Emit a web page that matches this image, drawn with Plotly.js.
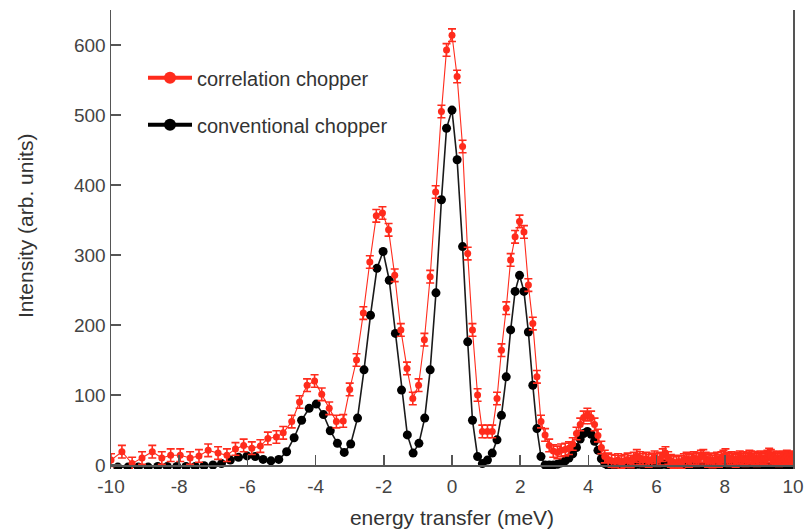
<!DOCTYPE html>
<html><head><meta charset="utf-8">
<script src="https://cdn.plot.ly/plotly-3.0.1.min.js"></script>
<style>html,body{margin:0;padding:0;background:#fff}#chart{width:806px;height:531px}</style>
</head><body><div id="chart"></div>
<script>
// conventional chopper (black)
const xConv = [-9.80,-9.50,-9.20,-8.91,-8.63,-8.35,-8.07,-7.80,-7.53,-7.27,-7.01,-6.76,-6.50,-6.26,-6.01,-5.77,-5.54,-5.31,-5.08,-4.85,-4.63,-4.41,-4.19,-3.98,-3.77,-3.57,-3.36,-3.16,-2.97,-2.77,-2.58,-2.39,-2.20,-2.02,-1.84,-1.66,-1.48,-1.31,-1.14,-0.97,-0.80,-0.64,-0.47,-0.31,-0.16,0.00,
0.15,0.31,0.46,0.60,0.75,0.89,1.04,1.18,1.32,1.45,
1.59,1.72,1.85,1.98,2.11,2.24,2.37,2.49,2.61,2.73,
2.85,2.97,3.09,3.20,3.32,3.43,3.54,3.65,3.76,3.86,
3.97,4.08,4.18,4.28,4.38,4.48,4.58,4.68,4.78,4.87,
4.97,5.06,5.15,5.24,5.33,5.42,5.51,5.60,5.69,5.77,
5.86,5.94,6.02,6.10,6.18,6.26,6.34,6.42,6.50,6.58,
6.65,6.73,6.80,6.88,6.95,7.02,7.09,7.16,7.23,7.30,
7.37,7.44,7.51,7.57,7.64,7.70,7.77,7.83,7.90,7.96,
8.02,8.08,8.14,8.20,8.26,8.32,8.38,8.44,8.50,8.55,
8.61,8.67,8.72,8.78,8.83,8.88,8.94,8.99,9.04,9.09,
9.15,9.20,9.25,9.30,9.35,9.40,9.44,9.49,9.54,9.59,
9.64,9.68,9.73,9.77,9.82,9.86,9.91,9.95,9.99];
const yConv = [-3,-3,-3,-3,-2,-2,-2,-2,-2,-1,0,2,7,11,13,12,8,6,8,19,39,64,81,87,72,49,31,18,30,67,136,214,281,305,264,188,107,43,17,31,67,136,246,379,481,507,
436,312,176,64,12,2,7,17,36,71,
126,193,248,271,248,190,114,52,12,0,
0,0,1,3,6,10,16,25,37,45,
48,44,34,21,9,2,-1,-2,-2,-2,
-3,-2,-2,-1,0,1,1,0,-1,-2,
-2,-2,-1,0,1,1,0,-1,-2,-2,
-2,-3,-2,-2,-3,-2,-2,-2,-3,-2,
-2,-3,-2,-2,-2,-3,-2,-2,-3,-2,
-2,-2,-3,-2,-2,-3,-2,-2,-2,-3,
-2,-2,-3,-2,-2,-2,-3,-2,-2,-3,
-2,-2,-2,-3,-2,-2,-3,-2,-2,-2,
-3,-2,-2,-3,-2,-2,-2,-3,-2];
// correlation chopper (red)
const xCorr = [-10.00,-9.68,-9.38,-9.09,-8.79,-8.51,-8.25,-7.97,-7.68,-7.42,-7.15,-6.86,-6.60,-6.35,-6.11,-5.87,-5.62,-5.40,-5.15,-4.95,-4.70,-4.47,-4.25,-4.03,-3.82,-3.60,-3.39,-3.19,-3.00,-2.80,-2.60,-2.41,-2.22,-2.04,-1.86,-1.68,-1.50,-1.32,-1.15,-0.98,-0.81,-0.64,-0.48,-0.31,-0.16,0.00,
0.15,0.31,0.46,0.60,0.75,0.89,1.04,1.18,1.32,1.45,
1.59,1.72,1.85,1.98,2.11,2.24,2.37,2.49,2.61,2.73,
2.85,2.97,3.09,3.20,3.32,3.43,3.54,3.65,3.76,3.86,
3.97,4.08,4.18,4.28,4.38,4.48,4.58,4.68,4.78,4.87,
4.97,5.06,5.15,5.24,5.33,5.42,5.51,5.60,5.69,5.77,
5.86,5.94,6.02,6.10,6.18,6.26,6.34,6.42,6.50,6.58,
6.65,6.73,6.80,6.88,6.95,7.02,7.09,7.16,7.23,7.30,
7.37,7.44,7.51,7.57,7.64,7.70,7.77,7.83,7.90,7.96,
8.02,8.08,8.14,8.20,8.26,8.32,8.38,8.44,8.50,8.55,
8.61,8.67,8.72,8.78,8.83,8.88,8.94,8.99,9.04,9.09,
9.15,9.20,9.25,9.30,9.35,9.40,9.44,9.49,9.54,9.59,
9.64,9.68,9.73,9.77,9.82,9.86,9.91,9.95,9.99];
const yCorr = [7,19,2,10,19,10,14,14,10,13,21,17,14,23,28,24,27,38,40,46,62,90,114,120,101,81,62,63,108,150,217,290,356,360,336,271,193,138,95,114,179,269,390,505,593,614,
555,455,302,193,100,48,48,48,95,164,
224,293,326,348,333,257,202,126,62,43,
28,20,18,21,22,24,30,45,58,68,
72,68,58,42,25,12,8,6,5,7,
4,6,8,5,9,13,10,7,9,6,
8,11,7,9,14,17,10,6,4,3,
5,4,7,9,6,8,10,7,9,12,
13,9,6,8,5,7,9,6,10,12,
14,9,7,10,8,6,9,11,8,10,
7,9,12,11,8,10,7,9,11,8,
10,9,12,15,13,9,11,8,10,7,
9,11,8,10,12,9,11,8,10];
const corrErr = 9;
const seriesNames = ['correlation chopper', 'conventional chopper'];
const xTitle = 'energy transfer (meV)';
const yTitle = 'Intensity (arb. units)';
const xTicks = [-10, -8, -6, -4, -2, 0, 2, 4, 6, 8, 10];
const yTicks = [0, 100, 200, 300, 400, 500, 600];

const RED = '#ff2b1c';
const BLACK = '#000000';
const AX = '#555555';
const Y0 = -5.7, Y1 = 650;

const traces = [
  {x: xConv, y: yConv, type: 'scatter', mode: 'lines+markers',
   line: {color: '#1a1a1a', width: 1.6}, marker: {color: BLACK, size: 9},
   showlegend: false, hoverinfo: 'skip'},
  {x: xCorr, y: yCorr, type: 'scatter', mode: 'lines+markers',
   line: {color: RED, width: 1.1}, marker: {color: RED, size: 7},
   error_y: {type: 'constant', value: corrErr, color: RED, thickness: 1.6, width: 4},
   showlegend: false, hoverinfo: 'skip'},
  {x: [null], y: [null], type: 'scatter', mode: 'lines+markers', name: seriesNames[0],
   line: {color: RED, width: 4}, marker: {color: RED, size: 12}, legendgroup: 'a'},
  {x: [null], y: [null], type: 'scatter', mode: 'lines+markers', name: seriesNames[1],
   line: {color: BLACK, width: 4}, marker: {color: BLACK, size: 12}, legendgroup: 'b'}
];

const axCommon = {
  range: [-10, 10], tickvals: xTicks, ticktext: xTicks.map(String),
  ticks: 'inside', ticklen: 10, tickwidth: 1.5, tickcolor: AX,
  showline: true, linecolor: AX, linewidth: 1.5,
  showgrid: false, zeroline: false, fixedrange: true
};

const layout = {
  width: 806, height: 531,
  margin: {l: 111, r: 13, t: 10, b: 62},
  paper_bgcolor: '#ffffff', plot_bgcolor: '#ffffff',
  font: {family: 'Liberation Sans, Arial, sans-serif', size: 19, color: '#444444'},
  showlegend: true,
  xaxis: Object.assign({}, axCommon, {
    anchor: 'free', position: (0 - Y0) / (Y1 - Y0),
    tickfont: {size: 19, color: '#444'}, ticklabelstandoff: 4,
    title: {text: xTitle, font: {size: 21, color: '#333'}, standoff: 14}
  }),
  xaxis2: Object.assign({}, axCommon, {
    overlaying: 'x', side: 'top', anchor: 'y', showticklabels: false
  }),
  yaxis: {
    range: [Y0, Y1], tickvals: yTicks, ticktext: yTicks.map(String),
    ticks: 'inside', ticklen: 10, tickwidth: 1.5, tickcolor: AX,
    showline: true, linecolor: AX, linewidth: 1.5, mirror: true,
    showgrid: false, zeroline: false, fixedrange: true,
    tickfont: {size: 19, color: '#444'}
  },
  annotations: [{
    text: yTitle, xref: 'paper', yref: 'paper',
    x: (25 - 111) / 682, y: (469 - 226) / 459, xanchor: 'center', yanchor: 'middle',
    textangle: -90, showarrow: false, font: {size: 21, color: '#333'}
  }],
  legend: {x: (143 - 111) / 682, y: 0.895, xanchor: 'left', yanchor: 'top',
    itemwidth: 44, font: {size: 20, color: '#333'}, tracegroupgap: 18,
    bgcolor: 'rgba(0,0,0,0)'}
};

Plotly.newPlot('chart', traces, layout, {displayModeBar: false, staticPlot: true});
</script>
</body></html>
